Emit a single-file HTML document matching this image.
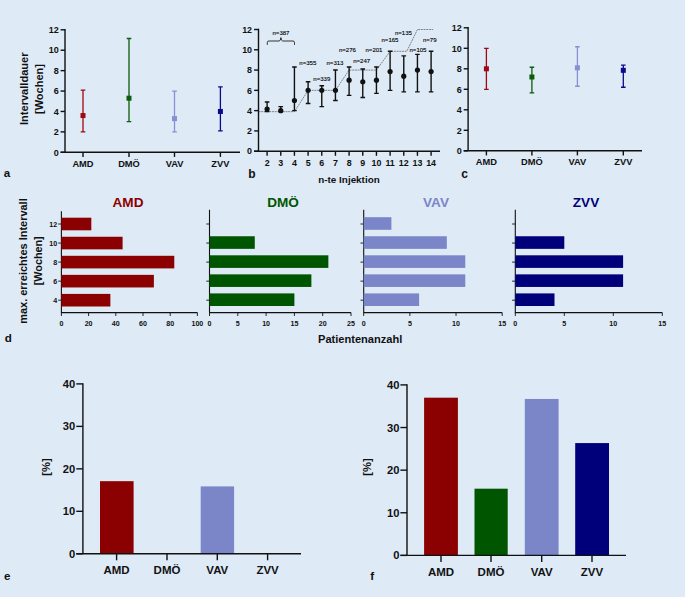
<!DOCTYPE html><html><head><meta charset="utf-8"><style>html,body{margin:0;padding:0;background:#deeaf6}svg{display:block}text{font-family:"Liberation Sans",sans-serif;font-weight:bold;fill:#111}</style></head><body>
<svg width="685" height="597" viewBox="0 0 685 597">
<rect width="685" height="597" fill="#deeaf6"/>
<path d="M65 29.1V152.3M60.6 152.3H240" stroke="#111" stroke-width="1.4" fill="none"/>
<path d="M60.6 152.30H65" stroke="#111" stroke-width="1.4"/>
<text x="58.7" y="155.50" font-size="9.0" text-anchor="end">0</text>
<path d="M60.6 131.88H65" stroke="#111" stroke-width="1.4"/>
<text x="58.7" y="135.08" font-size="9.0" text-anchor="end">2</text>
<path d="M60.6 111.47H65" stroke="#111" stroke-width="1.4"/>
<text x="58.7" y="114.67" font-size="9.0" text-anchor="end">4</text>
<path d="M60.6 91.05H65" stroke="#111" stroke-width="1.4"/>
<text x="58.7" y="94.25" font-size="9.0" text-anchor="end">6</text>
<path d="M60.6 70.63H65" stroke="#111" stroke-width="1.4"/>
<text x="58.7" y="73.83" font-size="9.0" text-anchor="end">8</text>
<path d="M60.6 50.22H65" stroke="#111" stroke-width="1.4"/>
<text x="58.7" y="53.42" font-size="9.0" text-anchor="end">10</text>
<path d="M60.6 29.80H65" stroke="#111" stroke-width="1.4"/>
<text x="58.7" y="33.00" font-size="9.0" text-anchor="end">12</text>
<path d="M83 152.3v4.6" stroke="#111" stroke-width="1.4"/>
<text x="83" y="166.90" font-size="9.3" text-anchor="middle">AMD</text>
<path d="M83 131.88V90.03M80.7 131.88h4.6M80.7 90.03h4.6" stroke="#a00814" stroke-width="1.3" fill="none"/>
<rect x="80.5" y="113.05" width="5" height="5" fill="#a00814"/>
<path d="M129 152.3v4.6" stroke="#111" stroke-width="1.4"/>
<text x="129" y="166.90" font-size="9.3" text-anchor="middle">DMÖ</text>
<path d="M129 121.68V38.48M126.7 121.68h4.6M126.7 38.48h4.6" stroke="#0b5c0b" stroke-width="1.3" fill="none"/>
<rect x="126.5" y="95.70" width="5" height="5" fill="#0b5c0b"/>
<path d="M174.5 152.3v4.6" stroke="#111" stroke-width="1.4"/>
<text x="174.5" y="166.90" font-size="9.3" text-anchor="middle">VAV</text>
<path d="M174.5 131.88V91.05M172.2 131.88h4.6M172.2 91.05h4.6" stroke="#8790d2" stroke-width="1.3" fill="none"/>
<rect x="172.0" y="116.11" width="5" height="5" fill="#8790d2"/>
<path d="M220.4 152.3v4.6" stroke="#111" stroke-width="1.4"/>
<text x="220.4" y="166.90" font-size="9.3" text-anchor="middle">ZVV</text>
<path d="M220.4 130.86V86.97M218.1 130.86h4.6M218.1 86.97h4.6" stroke="#0a0a8c" stroke-width="1.3" fill="none"/>
<rect x="217.9" y="108.97" width="5" height="5" fill="#0a0a8c"/>
<text transform="translate(27.7,125) rotate(-90)" font-size="11.4" textLength="72.5" lengthAdjust="spacingAndGlyphs">Intervalldauer</text>
<text transform="translate(42.6,114) rotate(-90)" font-size="11.4" textLength="50" lengthAdjust="spacingAndGlyphs">[Wochen]</text>
<text x="3.7" y="177.2" font-size="11.6">a</text>
<path d="M468.1 27.1V150.8M463.70000000000005 150.8H642" stroke="#111" stroke-width="1.4" fill="none"/>
<path d="M463.70000000000005 150.80H468.1" stroke="#111" stroke-width="1.4"/>
<text x="461.8" y="154.00" font-size="9.0" text-anchor="end">0</text>
<path d="M463.70000000000005 130.30H468.1" stroke="#111" stroke-width="1.4"/>
<text x="461.8" y="133.50" font-size="9.0" text-anchor="end">2</text>
<path d="M463.70000000000005 109.80H468.1" stroke="#111" stroke-width="1.4"/>
<text x="461.8" y="113.00" font-size="9.0" text-anchor="end">4</text>
<path d="M463.70000000000005 89.30H468.1" stroke="#111" stroke-width="1.4"/>
<text x="461.8" y="92.50" font-size="9.0" text-anchor="end">6</text>
<path d="M463.70000000000005 68.80H468.1" stroke="#111" stroke-width="1.4"/>
<text x="461.8" y="72.00" font-size="9.0" text-anchor="end">8</text>
<path d="M463.70000000000005 48.30H468.1" stroke="#111" stroke-width="1.4"/>
<text x="461.8" y="51.50" font-size="9.0" text-anchor="end">10</text>
<path d="M463.70000000000005 27.80H468.1" stroke="#111" stroke-width="1.4"/>
<text x="461.8" y="31.00" font-size="9.0" text-anchor="end">12</text>
<path d="M486.4 150.8v4.6" stroke="#111" stroke-width="1.4"/>
<text x="486.4" y="165.40" font-size="9.3" text-anchor="middle">AMD</text>
<path d="M486.4 89.30V48.30M484.09999999999997 89.30h4.6M484.09999999999997 48.30h4.6" stroke="#a00814" stroke-width="1.3" fill="none"/>
<rect x="483.9" y="66.30" width="5" height="5" fill="#a00814"/>
<path d="M531.9 150.8v4.6" stroke="#111" stroke-width="1.4"/>
<text x="531.9" y="165.40" font-size="9.3" text-anchor="middle">DMÖ</text>
<path d="M531.9 92.89V67.26M529.6 92.89h4.6M529.6 67.26h4.6" stroke="#0b5c0b" stroke-width="1.3" fill="none"/>
<rect x="529.4" y="74.50" width="5" height="5" fill="#0b5c0b"/>
<path d="M577.4 150.8v4.6" stroke="#111" stroke-width="1.4"/>
<text x="577.4" y="165.40" font-size="9.3" text-anchor="middle">VAV</text>
<path d="M577.4 86.23V46.76M575.1 86.23h4.6M575.1 46.76h4.6" stroke="#8790d2" stroke-width="1.3" fill="none"/>
<rect x="574.9" y="65.28" width="5" height="5" fill="#8790d2"/>
<path d="M623.3 150.8v4.6" stroke="#111" stroke-width="1.4"/>
<text x="623.3" y="165.40" font-size="9.3" text-anchor="middle">ZVV</text>
<path d="M623.3 87.25V65.21M621.0 87.25h4.6M621.0 65.21h4.6" stroke="#0a0a8c" stroke-width="1.3" fill="none"/>
<rect x="620.8" y="67.84" width="5" height="5" fill="#0a0a8c"/>
<text x="461.2" y="177.8" font-size="12">c</text>
<path d="M258.5 28.8V151.2M254.1 151.2H440" stroke="#111" stroke-width="1.4" fill="none"/>
<path d="M254.1 151.20H258.5" stroke="#111" stroke-width="1.4"/>
<text x="252.0" y="154.40" font-size="8.9" text-anchor="end">0</text>
<path d="M254.1 130.92H258.5" stroke="#111" stroke-width="1.4"/>
<text x="252.0" y="134.12" font-size="8.9" text-anchor="end">2</text>
<path d="M254.1 110.63H258.5" stroke="#111" stroke-width="1.4"/>
<text x="252.0" y="113.83" font-size="8.9" text-anchor="end">4</text>
<path d="M254.1 90.35H258.5" stroke="#111" stroke-width="1.4"/>
<text x="252.0" y="93.55" font-size="8.9" text-anchor="end">6</text>
<path d="M254.1 70.07H258.5" stroke="#111" stroke-width="1.4"/>
<text x="252.0" y="73.27" font-size="8.9" text-anchor="end">8</text>
<path d="M254.1 49.78H258.5" stroke="#111" stroke-width="1.4"/>
<text x="252.0" y="52.98" font-size="8.9" text-anchor="end">10</text>
<path d="M254.1 29.50H258.5" stroke="#111" stroke-width="1.4"/>
<text x="252.0" y="32.70" font-size="8.9" text-anchor="end">12</text>
<path d="M258.50 111.65 L294.43 111.65 L308.10 90.35 L335.44 90.35 L349.10 70.07 L376.44 70.07 L390.10 51.30 L406.77 51.30 L417.44 29.50 L433.10 29.50" stroke="#333" stroke-width="0.55" stroke-dasharray="2 0.7" fill="none"/>
<path d="M267.10 151.2v4.6" stroke="#111" stroke-width="1.4"/>
<text x="267.10" y="165.60" font-size="8.9" text-anchor="middle">2</text>
<path d="M267.10 111.65V102.01M264.80 111.65h4.6M264.80 102.01h4.6" stroke="#111" stroke-width="1.4" fill="none"/>
<circle cx="267.10" cy="109.11" r="2.6" fill="#111"/>
<path d="M280.77 151.2v4.6" stroke="#111" stroke-width="1.4"/>
<text x="280.77" y="165.60" font-size="8.9" text-anchor="middle">3</text>
<path d="M280.77 111.65V106.58M278.47 111.65h4.6M278.47 106.58h4.6" stroke="#111" stroke-width="1.4" fill="none"/>
<circle cx="280.77" cy="110.63" r="2.6" fill="#111"/>
<path d="M294.43 151.2v4.6" stroke="#111" stroke-width="1.4"/>
<text x="294.43" y="165.60" font-size="8.9" text-anchor="middle">4</text>
<path d="M294.43 110.63V67.02M292.13 110.63h4.6M292.13 67.02h4.6" stroke="#111" stroke-width="1.4" fill="none"/>
<circle cx="294.43" cy="100.49" r="2.6" fill="#111"/>
<path d="M308.10 151.2v4.6" stroke="#111" stroke-width="1.4"/>
<text x="308.10" y="165.60" font-size="8.9" text-anchor="middle">5</text>
<path d="M308.10 103.53V81.73M305.80 103.53h4.6M305.80 81.73h4.6" stroke="#111" stroke-width="1.4" fill="none"/>
<circle cx="308.10" cy="90.35" r="2.6" fill="#111"/>
<path d="M321.77 151.2v4.6" stroke="#111" stroke-width="1.4"/>
<text x="321.77" y="165.60" font-size="8.9" text-anchor="middle">6</text>
<path d="M321.77 106.58V85.79M319.47 106.58h4.6M319.47 85.79h4.6" stroke="#111" stroke-width="1.4" fill="none"/>
<circle cx="321.77" cy="90.35" r="2.6" fill="#111"/>
<path d="M335.44 151.2v4.6" stroke="#111" stroke-width="1.4"/>
<text x="335.44" y="165.60" font-size="8.9" text-anchor="middle">7</text>
<path d="M335.44 100.49V70.07M333.13 100.49h4.6M333.13 70.07h4.6" stroke="#111" stroke-width="1.4" fill="none"/>
<circle cx="335.44" cy="90.35" r="2.6" fill="#111"/>
<path d="M349.10 151.2v4.6" stroke="#111" stroke-width="1.4"/>
<text x="349.10" y="165.60" font-size="8.9" text-anchor="middle">8</text>
<path d="M349.10 95.42V67.02M346.80 95.42h4.6M346.80 67.02h4.6" stroke="#111" stroke-width="1.4" fill="none"/>
<circle cx="349.10" cy="80.21" r="2.6" fill="#111"/>
<path d="M362.77 151.2v4.6" stroke="#111" stroke-width="1.4"/>
<text x="362.77" y="165.60" font-size="8.9" text-anchor="middle">9</text>
<path d="M362.77 97.45V69.05M360.47 97.45h4.6M360.47 69.05h4.6" stroke="#111" stroke-width="1.4" fill="none"/>
<circle cx="362.77" cy="81.73" r="2.6" fill="#111"/>
<path d="M376.44 151.2v4.6" stroke="#111" stroke-width="1.4"/>
<text x="376.44" y="165.60" font-size="8.9" text-anchor="middle">10</text>
<path d="M376.44 93.39V67.02M374.14 93.39h4.6M374.14 67.02h4.6" stroke="#111" stroke-width="1.4" fill="none"/>
<circle cx="376.44" cy="80.21" r="2.6" fill="#111"/>
<path d="M390.10 151.2v4.6" stroke="#111" stroke-width="1.4"/>
<text x="390.10" y="165.60" font-size="8.9" text-anchor="middle">11</text>
<path d="M390.10 90.35V51.30M387.80 90.35h4.6M387.80 51.30h4.6" stroke="#111" stroke-width="1.4" fill="none"/>
<circle cx="390.10" cy="71.59" r="2.6" fill="#111"/>
<path d="M403.77 151.2v4.6" stroke="#111" stroke-width="1.4"/>
<text x="403.77" y="165.60" font-size="8.9" text-anchor="middle">12</text>
<path d="M403.77 91.87V55.87M401.47 91.87h4.6M401.47 55.87h4.6" stroke="#111" stroke-width="1.4" fill="none"/>
<circle cx="403.77" cy="76.15" r="2.6" fill="#111"/>
<path d="M417.44 151.2v4.6" stroke="#111" stroke-width="1.4"/>
<text x="417.44" y="165.60" font-size="8.9" text-anchor="middle">13</text>
<path d="M417.44 91.87V54.35M415.14 91.87h4.6M415.14 54.35h4.6" stroke="#111" stroke-width="1.4" fill="none"/>
<circle cx="417.44" cy="70.07" r="2.6" fill="#111"/>
<path d="M431.10 151.2v4.6" stroke="#111" stroke-width="1.4"/>
<text x="431.10" y="165.60" font-size="8.9" text-anchor="middle">14</text>
<path d="M431.10 91.87V51.30M428.80 91.87h4.6M428.80 51.30h4.6" stroke="#111" stroke-width="1.4" fill="none"/>
<circle cx="431.10" cy="71.59" r="2.6" fill="#111"/>
<text x="281" y="34.5" font-size="6.05" text-anchor="middle" style="font-weight:normal;fill:#000;stroke:#000;stroke-width:0.12">n=387</text>
<text x="307.8" y="65" font-size="6.05" text-anchor="middle" style="font-weight:normal;fill:#000;stroke:#000;stroke-width:0.12">n=355</text>
<text x="321.8" y="81" font-size="6.05" text-anchor="middle" style="font-weight:normal;fill:#000;stroke:#000;stroke-width:0.12">n=339</text>
<text x="335" y="65" font-size="6.05" text-anchor="middle" style="font-weight:normal;fill:#000;stroke:#000;stroke-width:0.12">n=313</text>
<text x="347.4" y="51.7" font-size="6.05" text-anchor="middle" style="font-weight:normal;fill:#000;stroke:#000;stroke-width:0.12">n=276</text>
<text x="361.7" y="63.3" font-size="6.05" text-anchor="middle" style="font-weight:normal;fill:#000;stroke:#000;stroke-width:0.12">n=247</text>
<text x="374" y="51.7" font-size="6.05" text-anchor="middle" style="font-weight:normal;fill:#000;stroke:#000;stroke-width:0.12">n=201</text>
<text x="390" y="42" font-size="6.05" text-anchor="middle" style="font-weight:normal;fill:#000;stroke:#000;stroke-width:0.12">n=165</text>
<text x="403.4" y="34.5" font-size="6.05" text-anchor="middle" style="font-weight:normal;fill:#000;stroke:#000;stroke-width:0.12">n=135</text>
<text x="418" y="51.7" font-size="6.05" text-anchor="middle" style="font-weight:normal;fill:#000;stroke:#000;stroke-width:0.12">n=105</text>
<text x="429.7" y="42" font-size="6.05" text-anchor="middle" style="font-weight:normal;fill:#000;stroke:#000;stroke-width:0.12">n=79</text>
<path d="M267.3 44.8 v-2.3 q0 -1.5 1.6 -1.5 h10.2 q1.5 0 1.8 -3.4 q0.3 3.4 1.8 3.4 h10.2 q1.6 0 1.6 1.5 v2.3" stroke="#111" stroke-width="0.85" fill="none"/>
<text x="349" y="183.4" font-size="9.9" text-anchor="middle">n-te Injektion</text>
<text x="248.2" y="177.8" font-size="12">b</text>
<path d="M61.4 211.3V312.6M60.9 312.6H197.4" stroke="#111" stroke-width="1.1" fill="none"/>
<path d="M58.199999999999996 224h3.2" stroke="#111" stroke-width="0.9"/>
<text x="57.1" y="226.5" font-size="7.1" text-anchor="end">12</text>
<rect x="61.4" y="217.7" width="29.92" height="12.6" fill="#8b0000"/>
<path d="M58.199999999999996 243.05h3.2" stroke="#111" stroke-width="0.9"/>
<text x="57.1" y="245.55" font-size="7.1" text-anchor="end">10</text>
<rect x="61.4" y="236.75" width="61.20" height="12.6" fill="#8b0000"/>
<path d="M58.199999999999996 262.1h3.2" stroke="#111" stroke-width="0.9"/>
<text x="57.1" y="264.6" font-size="7.1" text-anchor="end">8</text>
<rect x="61.4" y="255.8" width="112.88" height="12.6" fill="#8b0000"/>
<path d="M58.199999999999996 281.15h3.2" stroke="#111" stroke-width="0.9"/>
<text x="57.1" y="283.65" font-size="7.1" text-anchor="end">6</text>
<rect x="61.4" y="274.84999999999997" width="92.48" height="12.6" fill="#8b0000"/>
<path d="M58.199999999999996 300.2h3.2" stroke="#111" stroke-width="0.9"/>
<text x="57.1" y="302.7" font-size="7.1" text-anchor="end">4</text>
<rect x="61.4" y="293.9" width="48.96" height="12.6" fill="#8b0000"/>
<path d="M61.40 312.6v3.4" stroke="#111" stroke-width="0.9"/>
<text x="61.40" y="325.7" font-size="7.1" text-anchor="middle">0</text>
<path d="M88.60 312.6v3.4" stroke="#111" stroke-width="0.9"/>
<text x="88.60" y="325.7" font-size="7.1" text-anchor="middle">20</text>
<path d="M115.80 312.6v3.4" stroke="#111" stroke-width="0.9"/>
<text x="115.80" y="325.7" font-size="7.1" text-anchor="middle">40</text>
<path d="M143.00 312.6v3.4" stroke="#111" stroke-width="0.9"/>
<text x="143.00" y="325.7" font-size="7.1" text-anchor="middle">60</text>
<path d="M170.20 312.6v3.4" stroke="#111" stroke-width="0.9"/>
<text x="170.20" y="325.7" font-size="7.1" text-anchor="middle">80</text>
<path d="M197.40 312.6v3.4" stroke="#111" stroke-width="0.9"/>
<text x="197.40" y="325.7" font-size="7.1" text-anchor="middle">100</text>
<text x="128" y="207" font-size="13.6" text-anchor="middle" style="fill:#8b0000">AMD</text>
<path d="M209.5 209.7V312.6M209.0 312.6H351" stroke="#111" stroke-width="1.1" fill="none"/>
<path d="M206.3 224h3.2" stroke="#111" stroke-width="0.9"/>
<path d="M206.3 243.05h3.2" stroke="#111" stroke-width="0.9"/>
<rect x="209.5" y="236.25" width="45.28" height="12.6" fill="#005500"/>
<path d="M206.3 262.1h3.2" stroke="#111" stroke-width="0.9"/>
<rect x="209.5" y="255.3" width="118.86" height="12.6" fill="#005500"/>
<path d="M206.3 281.15h3.2" stroke="#111" stroke-width="0.9"/>
<rect x="209.5" y="274.34999999999997" width="101.88" height="12.6" fill="#005500"/>
<path d="M206.3 300.2h3.2" stroke="#111" stroke-width="0.9"/>
<rect x="209.5" y="293.4" width="84.90" height="12.6" fill="#005500"/>
<path d="M209.50 312.6v3.4" stroke="#111" stroke-width="0.9"/>
<text x="209.50" y="325.7" font-size="7.1" text-anchor="middle">0</text>
<path d="M237.80 312.6v3.4" stroke="#111" stroke-width="0.9"/>
<text x="237.80" y="325.7" font-size="7.1" text-anchor="middle">5</text>
<path d="M266.10 312.6v3.4" stroke="#111" stroke-width="0.9"/>
<text x="266.10" y="325.7" font-size="7.1" text-anchor="middle">10</text>
<path d="M294.40 312.6v3.4" stroke="#111" stroke-width="0.9"/>
<text x="294.40" y="325.7" font-size="7.1" text-anchor="middle">15</text>
<path d="M322.70 312.6v3.4" stroke="#111" stroke-width="0.9"/>
<text x="322.70" y="325.7" font-size="7.1" text-anchor="middle">20</text>
<path d="M351.00 312.6v3.4" stroke="#111" stroke-width="0.9"/>
<text x="351.00" y="325.7" font-size="7.1" text-anchor="middle">25</text>
<text x="283" y="207" font-size="13.6" text-anchor="middle" style="fill:#005500">DMÖ</text>
<path d="M363.7 209.7V312.6M363.2 312.6H502.2" stroke="#111" stroke-width="1.1" fill="none"/>
<path d="M360.5 224h3.2" stroke="#111" stroke-width="0.9"/>
<rect x="363.7" y="217.2" width="27.70" height="12.6" fill="#7b86c9"/>
<path d="M360.5 243.05h3.2" stroke="#111" stroke-width="0.9"/>
<rect x="363.7" y="236.25" width="83.10" height="12.6" fill="#7b86c9"/>
<path d="M360.5 262.1h3.2" stroke="#111" stroke-width="0.9"/>
<rect x="363.7" y="255.3" width="101.57" height="12.6" fill="#7b86c9"/>
<path d="M360.5 281.15h3.2" stroke="#111" stroke-width="0.9"/>
<rect x="363.7" y="274.34999999999997" width="101.57" height="12.6" fill="#7b86c9"/>
<path d="M360.5 300.2h3.2" stroke="#111" stroke-width="0.9"/>
<rect x="363.7" y="293.4" width="55.40" height="12.6" fill="#7b86c9"/>
<path d="M363.70 312.6v3.4" stroke="#111" stroke-width="0.9"/>
<text x="363.70" y="325.7" font-size="7.1" text-anchor="middle">0</text>
<path d="M409.87 312.6v3.4" stroke="#111" stroke-width="0.9"/>
<text x="409.87" y="325.7" font-size="7.1" text-anchor="middle">5</text>
<path d="M456.03 312.6v3.4" stroke="#111" stroke-width="0.9"/>
<text x="456.03" y="325.7" font-size="7.1" text-anchor="middle">10</text>
<path d="M502.20 312.6v3.4" stroke="#111" stroke-width="0.9"/>
<text x="502.20" y="325.7" font-size="7.1" text-anchor="middle">15</text>
<text x="436" y="207" font-size="13.6" text-anchor="middle" style="fill:#7b86c9">VAV</text>
<path d="M515.3 209.7V312.6M514.8 312.6H662.3" stroke="#111" stroke-width="1.1" fill="none"/>
<path d="M512.0999999999999 224h3.2" stroke="#111" stroke-width="0.9"/>
<path d="M512.0999999999999 243.05h3.2" stroke="#111" stroke-width="0.9"/>
<rect x="515.3" y="236.25" width="49.00" height="12.6" fill="#00007b"/>
<path d="M512.0999999999999 262.1h3.2" stroke="#111" stroke-width="0.9"/>
<rect x="515.3" y="255.3" width="107.80" height="12.6" fill="#00007b"/>
<path d="M512.0999999999999 281.15h3.2" stroke="#111" stroke-width="0.9"/>
<rect x="515.3" y="274.34999999999997" width="107.80" height="12.6" fill="#00007b"/>
<path d="M512.0999999999999 300.2h3.2" stroke="#111" stroke-width="0.9"/>
<rect x="515.3" y="293.4" width="39.20" height="12.6" fill="#00007b"/>
<path d="M515.30 312.6v3.4" stroke="#111" stroke-width="0.9"/>
<text x="515.30" y="325.7" font-size="7.1" text-anchor="middle">0</text>
<path d="M564.30 312.6v3.4" stroke="#111" stroke-width="0.9"/>
<text x="564.30" y="325.7" font-size="7.1" text-anchor="middle">5</text>
<path d="M613.30 312.6v3.4" stroke="#111" stroke-width="0.9"/>
<text x="613.30" y="325.7" font-size="7.1" text-anchor="middle">10</text>
<path d="M662.30 312.6v3.4" stroke="#111" stroke-width="0.9"/>
<text x="662.30" y="325.7" font-size="7.1" text-anchor="middle">15</text>
<text x="586" y="207" font-size="13.6" text-anchor="middle" style="fill:#00007b">ZVV</text>
<text transform="translate(27,323.8) rotate(-90)" font-size="11.6" textLength="125.5" lengthAdjust="spacingAndGlyphs">max. erreichtes Intervall</text>
<text transform="translate(41.8,285.3) rotate(-90)" font-size="11.6" textLength="49" lengthAdjust="spacingAndGlyphs">[Wochen]</text>
<text x="4.7" y="342" font-size="11.6">d</text>
<text x="318" y="342.6" font-size="11.6" textLength="84.3" lengthAdjust="spacingAndGlyphs">Patientenanzahl</text>
<rect x="100" y="481.17" width="33.60" height="72.63" fill="#8b0000"/>
<rect x="200.7" y="486.39" width="33.40" height="67.41" fill="#7b86c9"/>
<path d="M82.9 383.2V553.8M76.30000000000001 553.8H301" stroke="#111" stroke-width="1.4" fill="none"/>
<path d="M76.30000000000001 553.80H82.9" stroke="#111" stroke-width="1.4"/>
<text x="75.30000000000001" y="557.80" font-size="11.2" text-anchor="end">0</text>
<path d="M76.30000000000001 511.32H82.9" stroke="#111" stroke-width="1.4"/>
<text x="75.30000000000001" y="515.32" font-size="11.2" text-anchor="end">10</text>
<path d="M76.30000000000001 468.85H82.9" stroke="#111" stroke-width="1.4"/>
<text x="75.30000000000001" y="472.85" font-size="11.2" text-anchor="end">20</text>
<path d="M76.30000000000001 426.38H82.9" stroke="#111" stroke-width="1.4"/>
<text x="75.30000000000001" y="430.38" font-size="11.2" text-anchor="end">30</text>
<path d="M76.30000000000001 383.90H82.9" stroke="#111" stroke-width="1.4"/>
<text x="75.30000000000001" y="387.90" font-size="11.2" text-anchor="end">40</text>
<path d="M116.6 553.8v6.5" stroke="#111" stroke-width="1.4"/>
<text x="116.6" y="573.60" font-size="11.5" text-anchor="middle">AMD</text>
<path d="M167 553.8v6.5" stroke="#111" stroke-width="1.4"/>
<text x="167" y="573.60" font-size="11.5" text-anchor="middle">DMÖ</text>
<path d="M217.3 553.8v6.5" stroke="#111" stroke-width="1.4"/>
<text x="217.3" y="573.60" font-size="11.5" text-anchor="middle">VAV</text>
<path d="M267.6 553.8v6.5" stroke="#111" stroke-width="1.4"/>
<text x="267.6" y="573.60" font-size="11.5" text-anchor="middle">ZVV</text>
<text transform="translate(49.8,467) rotate(-90)" font-size="11.2" text-anchor="middle">[%]</text>
<text x="4.1" y="579.7" font-size="11.6">e</text>
<rect x="424.1" y="397.69" width="33.80" height="157.71" fill="#8b0000"/>
<rect x="474.5" y="488.69" width="33.20" height="66.71" fill="#005500"/>
<rect x="524.8" y="398.97" width="33.80" height="156.43" fill="#7b86c9"/>
<rect x="575.2" y="443.08" width="33.80" height="112.32" fill="#00007b"/>
<path d="M407 384.2V555.4M400.4 555.4H626" stroke="#111" stroke-width="1.4" fill="none"/>
<path d="M400.4 555.40H407" stroke="#111" stroke-width="1.4"/>
<text x="399.4" y="559.40" font-size="11.2" text-anchor="end">0</text>
<path d="M400.4 512.77H407" stroke="#111" stroke-width="1.4"/>
<text x="399.4" y="516.77" font-size="11.2" text-anchor="end">10</text>
<path d="M400.4 470.15H407" stroke="#111" stroke-width="1.4"/>
<text x="399.4" y="474.15" font-size="11.2" text-anchor="end">20</text>
<path d="M400.4 427.52H407" stroke="#111" stroke-width="1.4"/>
<text x="399.4" y="431.52" font-size="11.2" text-anchor="end">30</text>
<path d="M400.4 384.90H407" stroke="#111" stroke-width="1.4"/>
<text x="399.4" y="388.90" font-size="11.2" text-anchor="end">40</text>
<path d="M441 555.4v6.5" stroke="#111" stroke-width="1.4"/>
<text x="441" y="575.80" font-size="11.5" text-anchor="middle">AMD</text>
<path d="M491 555.4v6.5" stroke="#111" stroke-width="1.4"/>
<text x="491" y="575.80" font-size="11.5" text-anchor="middle">DMÖ</text>
<path d="M541.7 555.4v6.5" stroke="#111" stroke-width="1.4"/>
<text x="541.7" y="575.80" font-size="11.5" text-anchor="middle">VAV</text>
<path d="M592 555.4v6.5" stroke="#111" stroke-width="1.4"/>
<text x="592" y="575.80" font-size="11.5" text-anchor="middle">ZVV</text>
<text transform="translate(371.3,467) rotate(-90)" font-size="11.2" text-anchor="middle">[%]</text>
<text x="370.2" y="580.2" font-size="11.6">f</text>
</svg></body></html>
